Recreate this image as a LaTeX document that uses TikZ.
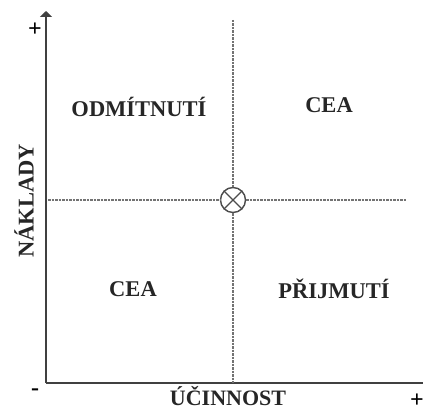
\documentclass[tikz,border=0pt]{standalone}
\usepackage{fontspec}
\setmainfont{Liberation Serif}
\usetikzlibrary{arrows.meta}
\begin{document}
\begin{tikzpicture}[x=1pt,y=-1pt,
  axis/.style={line width=1.6pt,draw=black!75},
  guide/.style={line width=1.2pt,draw=black!55,dash pattern=on 2.5pt off 1pt},
  lab/.style={font=\fontsize{22.5}{24}\selectfont\bfseries,text=black!85,inner sep=0pt},
  sign/.style={font=\fontsize{24}{25}\selectfont\bfseries,inner sep=0pt}]
\useasboundingbox (0,0) rectangle (423,412);
% axes
\coordinate (o) at (46,383);
\coordinate (ytop) at (46,11);
\coordinate (xend) at (424,383);
\draw[axis,-{Triangle[width=12pt,length=6pt]}] (o) -- (ytop);
\draw[axis] (o) -- (xend);
% centre mark
\node[circle,draw=black!70,line width=1.4pt,fill=white,minimum size=25pt,inner sep=0pt] (c) at (233,200) {};
\draw[black!70,line width=1.4pt] (c.north west) -- (c.south east) (c.north east) -- (c.south west);
% guides
\coordinate (vt) at (233,20);
\coordinate (vb) at (233,383);
\coordinate (hl) at (48,200);
\coordinate (hr) at (407,200);
\draw[guide] (vt) -- (c.north);
\draw[guide] (c.south) -- (vb);
\draw[guide] (hl) -- (c.west);
\draw[guide] (c.east) -- (hr);
% quadrant labels
\node[lab] (q1) at (139,107) {ODMÍTNUTÍ};
\node[lab] (q2) at (329,105) {CEA};
\node[lab] (q3) at (133,289) {CEA};
\node[lab] (q4) at (334,289) {PŘIJMUTÍ};
% axis labels
\node[lab,rotate=90] (yl) at (24,201) {NÁKLADY};
\node[lab,font=\fontsize{22}{23}\selectfont\bfseries] (xl) at (228,396) {ÚČINNOST};
% signs
\node[sign] (p1) at (35,30) {+};
\node[sign] (m1) at (35,392) {-};
\node[sign] (p2) at (417,401) {+};
\end{tikzpicture}
\end{document}
